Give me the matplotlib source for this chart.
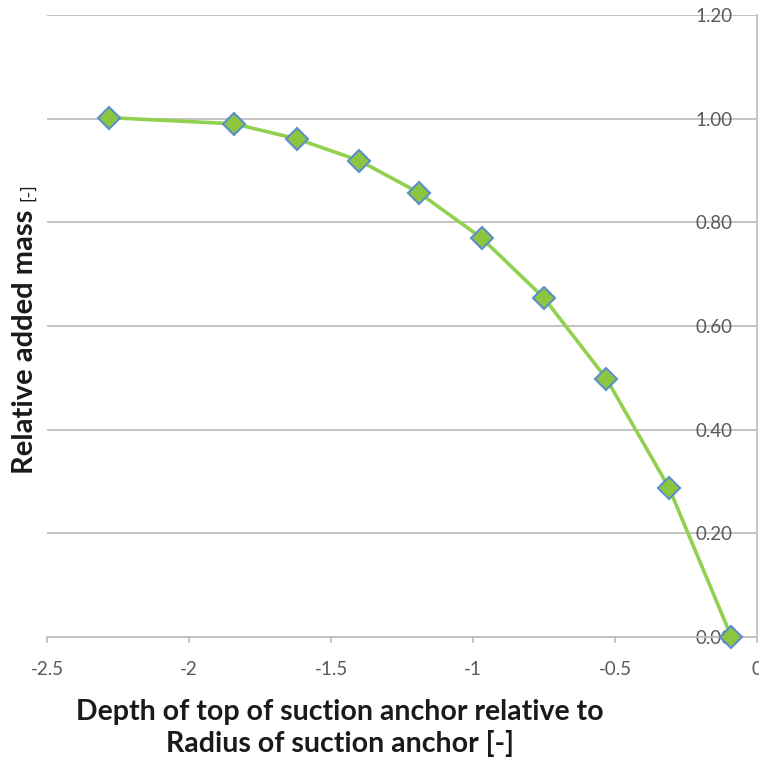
import matplotlib
matplotlib.use('Agg')
import matplotlib.pyplot as plt

# values
depth = [-2.28, -1.84, -1.62, -1.40, -1.19, -0.97, -0.75, -0.53, -0.31, -0.09]
added_mass = [1.002, 0.990, 0.961, 0.919, 0.857, 0.770, 0.654, 0.498, 0.288, 0.0]
xticks = [-2.5, -2, -1.5, -1, -0.5, 0]
xtick_labels = ['-2.5', '-2', '-1.5', '-1', '-0.5', '0']
yticks = [0.0, 0.2, 0.4, 0.6, 0.8, 1.0, 1.2]

plt.rcParams['font.family'] = ['Lato', 'DejaVu Sans']

grey = '#bfbfbf'
txt = '#595959'

fig = plt.figure(figsize=(7.59, 7.64), dpi=100)
ax = fig.add_axes([47/759, 1-637/764, (757-47)/759, (637-15)/764])

ax.plot(depth, added_mass, color='#92d050', lw=2.6, zorder=3,
        marker='D', markersize=11, markerfacecolor='#8cc63f',
        markeredgecolor='#5b8fc9', markeredgewidth=1.5, clip_on=False)

ax.set_xlim(-2.5, 0)
ax.set_ylim(0, 1.2)
ax.set_xticks(xticks)
ax.set_xticklabels(xtick_labels)
ax.set_yticks(yticks)
ax.set_yticklabels(['%.2f' % v for v in yticks])

ax.yaxis.grid(True, color=grey, lw=1.3)
ax.set_axisbelow(True)
for s in ['top', 'left']:
    ax.spines[s].set_visible(False)
for s in ['bottom', 'right']:
    ax.spines[s].set_color(grey)
    ax.spines[s].set_linewidth(1.3)

ax.yaxis.set_ticks_position('right')
ax.tick_params(axis='y', length=0, pad=-17.5, labelsize=13.5, labelcolor=txt)
for lab in ax.get_yticklabels():
    lab.set_horizontalalignment('right')
ax.tick_params(axis='x', length=4, width=1.3, color=grey, pad=13,
               labelsize=13.5, labelcolor=txt)

fig.text(340/759, 1-728/764, 'Depth of top of suction anchor relative to\nRadius of suction anchor [-]',
         ha='center', va='center', fontsize=20.5, fontweight='bold',
         color='#1a1a1a', linespacing=1.2)

fig.text(25/759, 1-474/764, 'Relative added mass', rotation=90, ha='center',
         va='bottom', fontsize=21, fontweight='bold', color='#1a1a1a')
fig.text(28/759, 1-201/764, '[-]', rotation=90, ha='center',
         va='bottom', fontsize=13, color='#1a1a1a')

fig.savefig('out.png', dpi=100)
